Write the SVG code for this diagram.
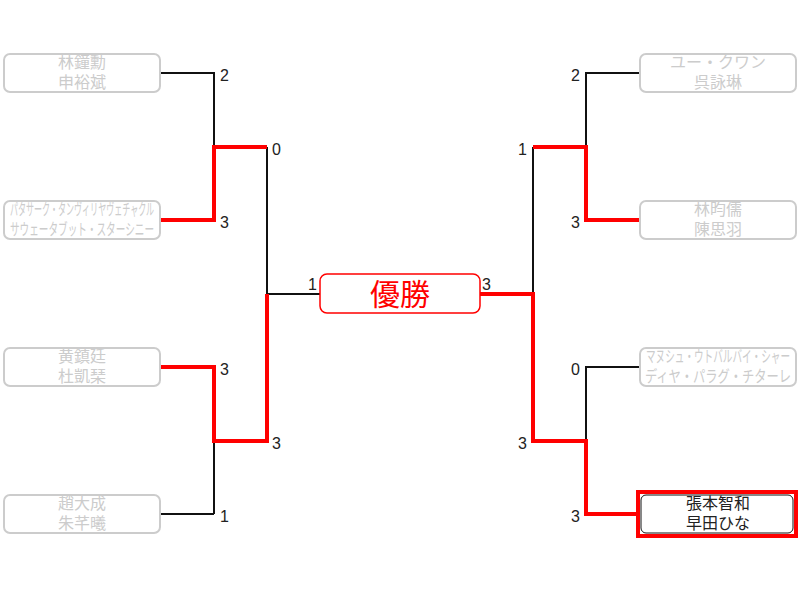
<svg xmlns="http://www.w3.org/2000/svg" width="800" height="600" viewBox="0 0 800 600">
<style>
.box{fill:#fff;stroke:#ccc;stroke-width:2}
.name{font-family:"Noto Sans CJK JP","Noto Sans",sans-serif;font-size:16px;fill:#ccc;text-anchor:middle}
.win{fill:#222}
.sc{font-family:"Liberation Sans","DejaVu Sans",sans-serif;font-size:16px;fill:#222}
.end{text-anchor:end}
.lose{fill:none;stroke:#111;stroke-width:2}
.w{fill:none;stroke:#f00;stroke-width:4}
</style>
<rect width="800" height="600" fill="#fff"/>
<g id="connectors">
<polyline class="lose" points="160,73 214,73 214,147"/>
<polyline class="lose" points="214,514 160,514"/>
<polyline class="lose" points="214,514 214,441"/>
<polyline class="lose" points="267,147 267,294 320,294"/>
<polyline class="w" points="160,220 214,220 214,147 267,147"/>
<polyline class="w" points="160,367 214,367 214,441 267,441 267,294"/>
<polyline class="lose" points="640,73 586,73 586,147"/>
<polyline class="lose" points="640,367 586,367 586,441"/>
<polyline class="lose" points="533,147 533,294"/>
<polyline class="w" points="640,220 586,220 586,147 533,147"/>
<polyline class="w" points="638,514 586,514 586,441 533,441 533,294 480,294"/>
</g>
<g id="scores">
<text class="sc" x="220" y="81">2</text>
<text class="sc" x="220" y="228">3</text>
<text class="sc" x="272" y="155">0</text>
<text class="sc" x="220" y="375">3</text>
<text class="sc" x="220" y="522">1</text>
<text class="sc" x="272" y="449">3</text>
<text class="sc end" x="317" y="290">1</text>
<text class="sc" x="482" y="290">3</text>
<text class="sc end" x="580" y="81">2</text>
<text class="sc end" x="580" y="228">3</text>
<text class="sc end" x="527" y="155">1</text>
<text class="sc end" x="580" y="375">0</text>
<text class="sc end" x="580" y="522">3</text>
<text class="sc end" x="527" y="449">3</text>
</g>
<g id="p1"><rect class="box" x="4" y="54" width="156" height="38" rx="6"/><text class="name" x="82" y="68">林鐘勳</text><text class="name" x="82" y="88">申裕斌</text></g>
<g id="p2"><rect class="box" x="4" y="201" width="156" height="38" rx="6"/><text class="name" transform="translate(82,215) scale(0.5,1)" x="0" y="0" textLength="288" lengthAdjust="spacingAndGlyphs">パタサーク・タンヴィリヤヴェチャクル</text><text class="name" transform="translate(82,235) scale(0.6,1)" x="0" y="0" textLength="240" lengthAdjust="spacingAndGlyphs">サウェータブット・スターシニー</text></g>
<g id="p3"><rect class="box" x="4" y="348" width="156" height="38" rx="6"/><text class="name" x="82" y="362">黄鎮廷</text><text class="name" x="82" y="382">杜凱琹</text></g>
<g id="p4"><rect class="box" x="4" y="495" width="156" height="38" rx="6"/><text class="name" x="82" y="509">趙大成</text><text class="name" x="82" y="529">朱芊曦</text></g>
<g id="p5"><rect class="box" x="640" y="54" width="156" height="38" rx="6"/><text class="name" x="718" y="68">ユー・クワン</text><text class="name" x="718" y="88">呉詠琳</text></g>
<g id="p6"><rect class="box" x="640" y="201" width="156" height="38" rx="6"/><text class="name" x="718" y="215">林昀儒</text><text class="name" x="718" y="235">陳思羽</text></g>
<g id="p7"><rect class="box" x="640" y="348" width="156" height="38" rx="6"/><text class="name" transform="translate(718,362) scale(0.6,1)" x="0" y="0" textLength="240" lengthAdjust="spacingAndGlyphs">マヌシュ・ウトバルバイ・シャー</text><text class="name" transform="translate(718,382) scale(0.75,1)" x="0" y="0" textLength="195" lengthAdjust="spacingAndGlyphs">ディヤ・パラグ・チターレ</text></g>
<g id="p8"><rect x="638" y="492" width="158" height="44" fill="#fff" stroke="#f00" stroke-width="4"/><rect x="641" y="495" width="152" height="38" rx="5" fill="#fff" stroke="#111" stroke-width="1"/><text class="name win" x="718" y="509">張本智和</text><text class="name win" x="718" y="529">早田ひな</text></g>
<g id="final"><rect x="320" y="274" width="160" height="39" rx="7" fill="#fff" stroke="#f00" stroke-width="1.5"/><text x="400" y="305" font-family="Noto Sans CJK JP,sans-serif" font-size="30" fill="#f00" text-anchor="middle">優勝</text></g>
</svg>
